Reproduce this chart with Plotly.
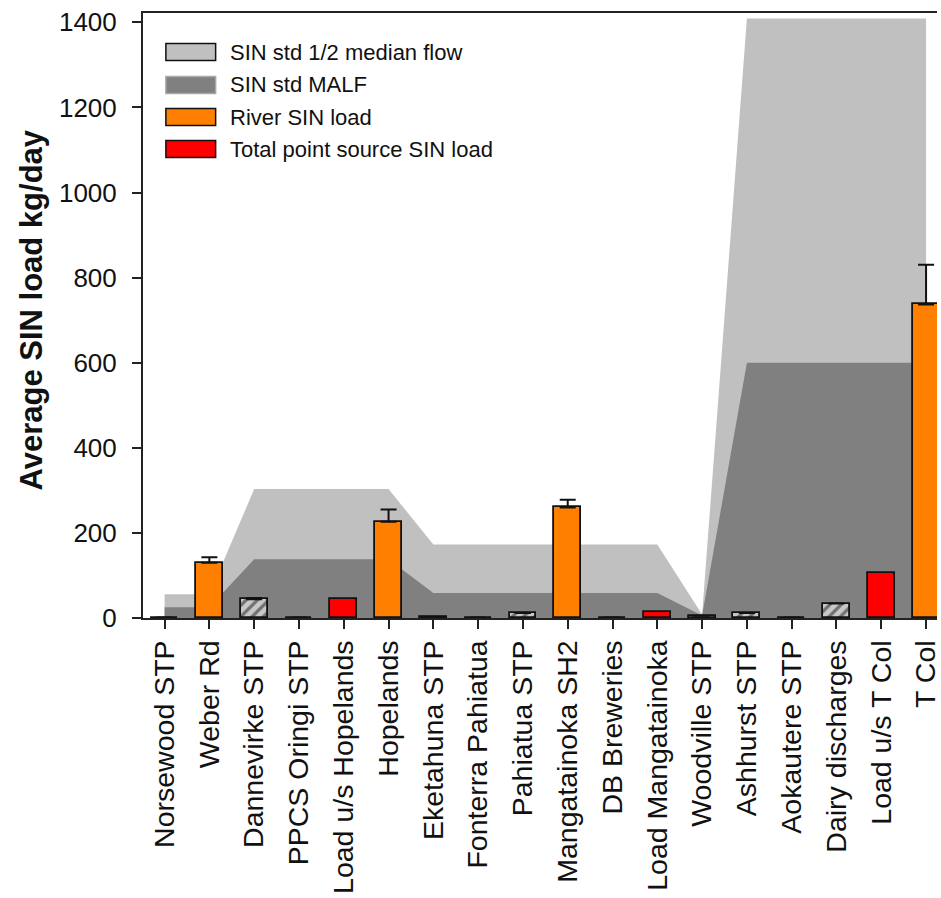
import plotly.graph_objects as go

# Sites along the river, upstream to downstream
sites = ["Norsewood STP", "Weber Rd", "Dannevirke STP", "PPCS Oringi STP",
         "Load u/s Hopelands", "Hopelands", "Eketahuna STP", "Fonterra Pahiatua",
         "Pahiatua STP", "Mangatainoka SH2", "DB Breweries", "Load Mangatainoka",
         "Woodville STP", "Ashhurst STP", "Aokautere STP", "Dairy discharges",
         "Load u/s T Col", "T Col"]

# SIN standards (kg/day) expressed as load at each site
std_half_median = [56, 56, 303, 303, 303, 303, 173, 173, 173, 173, 173, 173,
                   8, 1409, 1409, 1409, 1409, 1409]
std_malf = [25, 25, 138, 138, 138, 138, 59, 59, 59, 59, 59, 59,
            6, 600, 600, 600, 600, 600]

# Measured river SIN load with upper error
river_sites = ["Weber Rd", "Hopelands", "Mangatainoka SH2", "T Col"]
river_load = [130, 226, 260, 737]
river_err = [13, 29, 18, 93]

# Individual point-source discharges
ps_sites = ["Norsewood STP", "Dannevirke STP", "PPCS Oringi STP", "Eketahuna STP",
            "Fonterra Pahiatua", "Pahiatua STP", "DB Breweries", "Woodville STP",
            "Ashhurst STP", "Aokautere STP", "Dairy discharges"]
ps_load = [1, 44, 1, 1.5, 1, 12, 1, 5, 12, 1, 34]
ps_err = [None, 3, None, None, None, None, None, None, None, None, None]

# Total point-source load upstream of river sites
tot_sites = ["Load u/s Hopelands", "Load Mangatainoka", "Load u/s T Col"]
tot_load = [44, 15, 106]

legend_labels = ["SIN std 1/2 median flow", "SIN std MALF",
                 "River SIN load", "Total point source SIN load"]

FONT = "Liberation Sans, Arial, sans-serif"
LIGHT = "#c0c0c0"
DARK = "#808080"
ORANGE = "#ff8000"
RED = "#ff0000"
X_RANGE = [-0.482, 17.244]
Y_RANGE = [0, 1422]

pos = {s: i for i, s in enumerate(sites)}
xs = list(range(len(sites)))

fig = go.Figure()

# Standard areas on the base axes (drawn underneath)
fig.add_trace(go.Scatter(x=xs, y=std_half_median, mode="lines", fill="tozeroy",
                         line=dict(width=0, color=LIGHT), fillcolor=LIGHT,
                         showlegend=False, hoverinfo="skip"))
fig.add_trace(go.Scatter(x=xs, y=std_malf, mode="lines", fill="tozeroy",
                         line=dict(width=0, color=DARK), fillcolor=DARK,
                         showlegend=False, hoverinfo="skip"))

# Bars on an overlaid pair of axes so they sit on top of the areas
err_style = dict(type="data", symmetric=False, thickness=2, width=8, color="#111")

fig.add_trace(go.Bar(
    x=[pos[s] for s in ps_sites], y=ps_load, width=0.6, xaxis="x2", yaxis="y2",
    marker=dict(color="#c8c8c8", line=dict(color="#111", width=1.8),
                pattern=dict(shape="/", fgcolor="#1a1a1a", bgcolor="#c8c8c8",
                             size=8, solidity=0.4)),
    error_y=dict(array=ps_err, arrayminus=[0] * len(ps_err), **err_style),
    showlegend=False))

fig.add_trace(go.Bar(
    x=[pos[s] for s in tot_sites], y=tot_load, width=0.6, xaxis="x2", yaxis="y2",
    marker=dict(color=RED, line=dict(color="#111", width=1.8)),
    showlegend=False))

fig.add_trace(go.Bar(
    x=[pos[s] for s in river_sites], y=river_load, width=0.6, xaxis="x2", yaxis="y2",
    marker=dict(color=ORANGE, line=dict(color="#111", width=1.8)),
    error_y=dict(array=river_err, arrayminus=[0] * len(river_err), **err_style),
    showlegend=False))

# Figure geometry in pixels
W, H = 941, 898
L, R, T, B = 143, 0, 13, 280
pw, ph = W - L - R, H - T - B


def px_x(p):
    return (p - L) / pw


def px_y(p):
    return (H - B - p) / ph


# Legend drawn as boxes with text
shapes = []
annotations = []
legend_fill = [LIGHT, DARK, ORANGE, RED]
legend_edge = ["#111", "#a8a8a8", "#111", "#111"]
row_y = [52, 85, 117, 149]
for lab, fc, ec, ry in zip(legend_labels, legend_fill, legend_edge, row_y):
    shapes.append(dict(type="rect", xref="paper", yref="paper",
                       x0=px_x(166), x1=px_x(216), y0=px_y(ry + 8.5), y1=px_y(ry - 8.5),
                       fillcolor=fc, line=dict(color=ec, width=1.5), layer="above"))
    annotations.append(dict(xref="paper", yref="paper", x=px_x(228), y=px_y(ry),
                            xanchor="left", yanchor="middle", text=lab, showarrow=False,
                            font=dict(family=FONT, size=22, color="#111")))

annotations.append(dict(xref="paper", yref="paper", x=px_x(30), y=px_y(310),
                        xanchor="center", yanchor="middle", textangle=-90,
                        text="<b>Average SIN load kg/day</b>", showarrow=False,
                        font=dict(family=FONT, size=31, color="#111")))

fig.update_layout(
    width=W, height=H,
    margin=dict(l=L, r=R, t=T, b=B),
    paper_bgcolor="white", plot_bgcolor="white",
    barmode="overlay", bargap=0,
    shapes=shapes, annotations=annotations,
    font=dict(family=FONT, color="#111"),
    xaxis=dict(range=X_RANGE, tickmode="array", tickvals=xs, ticktext=sites,
               tickangle=-90, ticks="outside", ticklen=9, tickwidth=2, tickcolor="#222",
               showline=True, linecolor="#222", linewidth=2, mirror=True,
               showgrid=False, zeroline=False, tickfont=dict(size=28.5, family=FONT),
               ticklabelstandoff=0, ticklabeloverflow="allow"),
    yaxis=dict(range=Y_RANGE, tickvals=[0, 200, 400, 600, 800, 1000, 1200, 1400],
               ticks="outside", ticklen=9, tickwidth=2, tickcolor="#222",
               showline=True, linecolor="#222", linewidth=2,
               showgrid=False, zeroline=False, tickfont=dict(size=26, family=FONT),
               ticklabelstandoff=10),
    xaxis2=dict(range=X_RANGE, overlaying="x", visible=False),
    yaxis2=dict(range=Y_RANGE, overlaying="y", visible=False),
)

fig.write_html("out.html")
